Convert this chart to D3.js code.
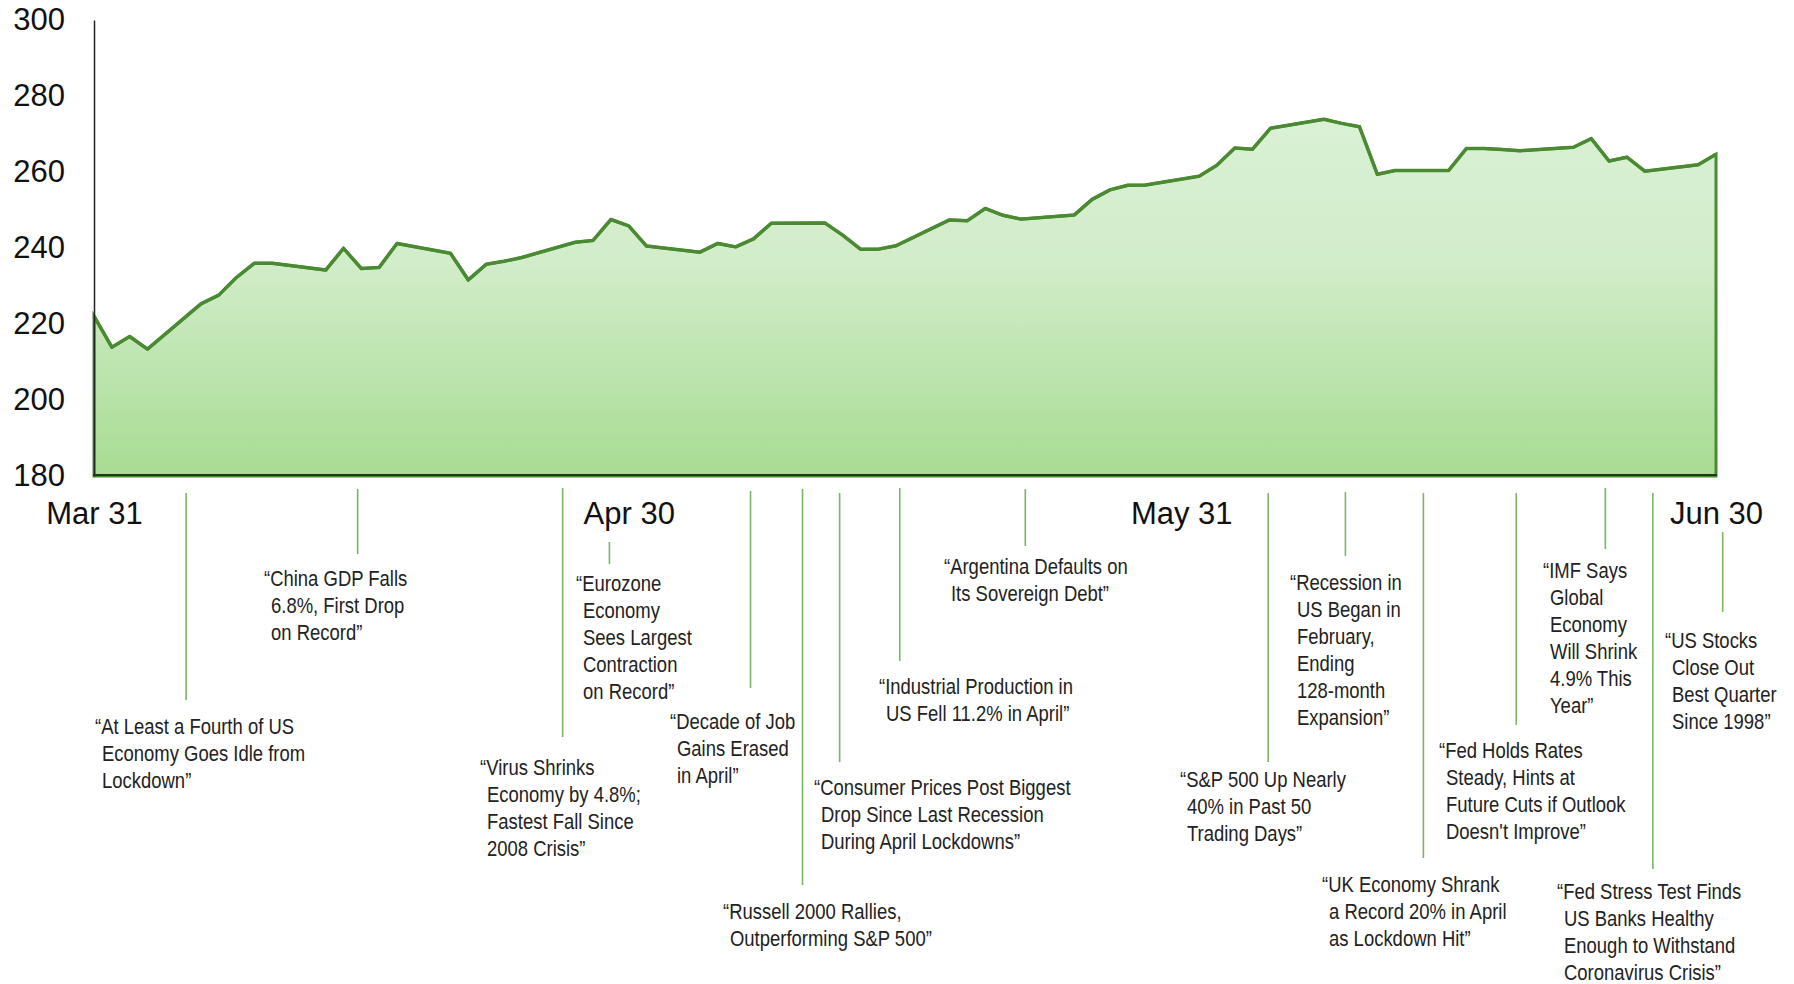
<!DOCTYPE html>
<head>
  <meta charset="utf-8">
  <style>
    body { margin: 0; background: #fff; }
    svg { background-color: #fff; }
    .axis text { font-family: "Liberation Sans", Arial, sans-serif; font-size: 31px; fill: #111; }
    .headline { font-family: "Liberation Sans", Arial, sans-serif; font-size: 22px; fill: #222; }
    .callout { stroke: #7ab567; stroke-width: 1.6px; }
  </style>
</head>

<body>
  <svg></svg>
  <script src="https://d3js.org/d3.v7.min.js"></script>
  <script type="text/javascript">
  // trading days (weekdays) and closing level
  const dates = [
    "2020-03-31","2020-04-01","2020-04-02","2020-04-03","2020-04-06","2020-04-07","2020-04-08","2020-04-09","2020-04-10",
    "2020-04-13","2020-04-14","2020-04-15","2020-04-16","2020-04-17","2020-04-20","2020-04-21","2020-04-22","2020-04-23",
    "2020-04-24","2020-04-27","2020-04-28","2020-04-29","2020-04-30","2020-05-01","2020-05-04","2020-05-05","2020-05-06",
    "2020-05-07","2020-05-08","2020-05-11","2020-05-12","2020-05-13","2020-05-14","2020-05-15","2020-05-18","2020-05-19",
    "2020-05-20","2020-05-21","2020-05-22","2020-05-25","2020-05-26","2020-05-27","2020-05-28","2020-05-29","2020-06-01",
    "2020-06-02","2020-06-03","2020-06-04","2020-06-05","2020-06-08","2020-06-09","2020-06-10","2020-06-11","2020-06-12",
    "2020-06-15","2020-06-16","2020-06-17","2020-06-18","2020-06-19","2020-06-22","2020-06-23","2020-06-24","2020-06-25",
    "2020-06-26","2020-06-29","2020-06-30"
  ];
  const values = [
    222.1, 213.9, 216.7, 213.4, 225.3, 227.6, 232.3, 236.0, 236.0,
    234.2, 239.9, 234.6, 234.9, 241.2, 238.6, 231.6, 235.7, 236.5,
    237.5, 241.5, 242.0, 247.5, 245.8, 240.5, 238.9, 241.2, 240.3,
    242.4, 246.5, 246.6, 243.4, 239.7, 239.7, 240.6, 247.4, 247.2,
    250.4, 248.6, 247.6, 248.7, 252.8, 255.3, 256.5, 256.6, 258.9,
    261.8, 266.3, 266.0, 271.5, 273.9, 272.8, 271.9, 259.4, 260.4,
    260.4, 266.2, 266.2, 265.9, 265.6, 266.5, 268.8, 262.9, 263.9,
    260.2, 261.9, 264.7
  ];

  const yTicks = [180, 200, 220, 240, 260, 280, 300];
  const xTickDates = ["2020-03-31", "2020-04-30", "2020-05-31", "2020-06-30"];

  // headline markers (date + hour) and their text
  const headlineDates = [
    "2020-04-05 04", "2020-04-14 19", "2020-04-26 07", "2020-04-28 22", "2020-05-06 20", "2020-05-09 18",
    "2020-05-11 20", "2020-05-15 05", "2020-05-22 06", "2020-06-04 21", "2020-06-09 05", "2020-06-13 14",
    "2020-06-18 19", "2020-06-23 19", "2020-06-26 11", "2020-06-30 09"
  ];
  const headlines = [
    "At Least a Fourth of US|Economy Goes Idle from|Lockdown",
    "China GDP Falls|6.8%, First Drop|on Record",
    "Virus Shrinks|Economy by 4.8%;|Fastest Fall Since|2008 Crisis",
    "Eurozone|Economy|Sees Largest|Contraction|on Record",
    "Decade of Job|Gains Erased|in April",
    "Russell 2000 Rallies,|Outperforming S&P 500",
    "Consumer Prices Post Biggest|Drop Since Last Recession|During April Lockdowns",
    "Industrial Production in|US Fell 11.2% in April",
    "Argentina Defaults on|Its Sovereign Debt",
    "S&P 500 Up Nearly|40% in Past 50|Trading Days",
    "Recession in|US Began in|February,|Ending|128-month|Expansion",
    "UK Economy Shrank|a Record 20% in April|as Lockdown Hit",
    "Fed Holds Rates|Steady, Hints at|Future Cuts if Outlook|Doesn't Improve",
    "IMF Says|Global|Economy|Will Shrink|4.9% This|Year",
    "Fed Stress Test Finds|US Banks Healthy|Enough to Withstand|Coronavirus Crisis",
    "US Stocks|Close Out|Best Quarter|Since 1998"
  ];

  const width = 1794, height = 984;
  const margin = { left: 94, right: 78, top: 20, bottom: 508 };

  const parseDay = d3.timeParse("%Y-%m-%d");
  const parseHour = d3.timeParse("%Y-%m-%d %H");

  const svg = d3.select("svg").attr("width", width).attr("height", height);

  const x = d3.scaleTime()
      .domain([parseDay(xTickDates[0]), parseDay(xTickDates[3])])
      .range([margin.left, width - margin.right]);
  const y = d3.scaleLinear()
      .domain([180, 300])
      .range([height - margin.bottom, margin.top]);

  const series = dates.map((d, i) => ({ date: parseDay(d), value: values[i] }));

  // gradient fill
  const defs = svg.append("defs");
  const grad = defs.append("linearGradient")
      .attr("id", "fillGrad")
      .attr("gradientUnits", "userSpaceOnUse")
      .attr("x1", 0).attr("x2", 0)
      .attr("y1", y(275)).attr("y2", y(180));
  grad.append("stop").attr("offset", 0).attr("stop-color", "#daf1d5");
  grad.append("stop").attr("offset", 0.4).attr("stop-color", "#d2edca");
  grad.append("stop").attr("offset", 1).attr("stop-color", "#a8dc93");

  const area = d3.area()
      .x(d => x(d.date))
      .y0(y(180))
      .y1(d => y(d.value));
  const line = d3.line()
      .x(d => x(d.date))
      .y(d => y(d.value));

  svg.append("path")
      .datum(series)
      .attr("d", area)
      .attr("fill", "url(#fillGrad)")
      .attr("stroke", "#4a8a32")
      .attr("stroke-width", 3);

  svg.append("path")
      .datum(series)
      .attr("d", line)
      .attr("fill", "none")
      .attr("stroke", "#4a8a32")
      .attr("stroke-width", 3.5)
      .attr("stroke-linejoin", "round");

  // y axis
  const yAxis = svg.append("g")
      .attr("class", "axis")
      .attr("transform", `translate(${margin.left},0)`)
      .call(d3.axisLeft(y).tickValues(yTicks).tickSize(0).tickPadding(29));
  yAxis.select(".domain").attr("stroke", "#222").attr("stroke-width", 1.5);

  // bottom baseline
  svg.append("line")
      .attr("x1", margin.left - 1).attr("x2", x(parseDay(xTickDates[3])) + 1)
      .attr("y1", y(180) - 1).attr("y2", y(180) - 1)
      .attr("stroke", "#1d3a14")
      .attr("stroke-width", 2);

  // x axis labels
  const xAxis = svg.append("g")
      .attr("class", "axis")
      .attr("transform", `translate(0,${y(180)})`)
      .call(d3.axisBottom(x)
        .tickValues(xTickDates.map(parseDay))
        .tickFormat(d3.timeFormat("%b %d"))
        .tickSize(0));
  xAxis.select(".domain").remove();
  xAxis.selectAll("text").attr("y", 37).attr("dy", "0.35em");

  // headline callouts: [line top, line bottom, text left, first text line centre]
  const layout = [
    [493, 700, 95, 726], [489, 554, 264, 578], [488, 737, 480, 767], [542, 564, 576, 583],
    [491, 688, 670, 721], [489, 885, 723, 911], [493, 762, 814, 787], [488, 661, 879, 686],
    [489, 546, 944, 566], [493, 762, 1180, 779], [492, 556, 1290, 582], [493, 858, 1322, 884],
    [493, 725, 1439, 750], [488, 549, 1543, 570], [493, 869, 1557, 891], [532, 612, 1665, 640]
  ];
  const lineGap = 27;
  const narrow = 0.84;   // squeeze to look like a narrow face

  const callouts = svg.append("g").selectAll("g")
      .data(headlines.map((h, i) => ({ date: parseHour(headlineDates[i]), lines: h.split("|"), pos: layout[i] })))
      .enter().append("g");

  callouts.append("line")
      .attr("class", "callout")
      .attr("x1", d => x(d.date)).attr("x2", d => x(d.date))
      .attr("y1", d => d.pos[0]).attr("y2", d => d.pos[1]);

  // width of the opening quote, used to hang the following lines
  const probe = svg.append("text").attr("class", "headline").text("\u201C");
  const quoteW = probe.node().getComputedTextLength();
  probe.remove();

  callouts.each(function(d) {
    const t = d3.select(this).append("text")
        .attr("class", "headline")
        .attr("transform", `translate(${d.pos[2]},0) scale(${narrow},1)`);
    d.lines.forEach(function(s, i) {
      const txt = (i == 0 ? "\u201C" : "") + s + (i == d.lines.length - 1 ? "\u201D" : "");
      t.append("tspan")
          .attr("x", i == 0 ? 0 : quoteW + 1)
          .attr("y", d.pos[3] + i * lineGap)
          .attr("dy", "0.36em")
          .text(txt);
    });
  });
  </script>
</body>
